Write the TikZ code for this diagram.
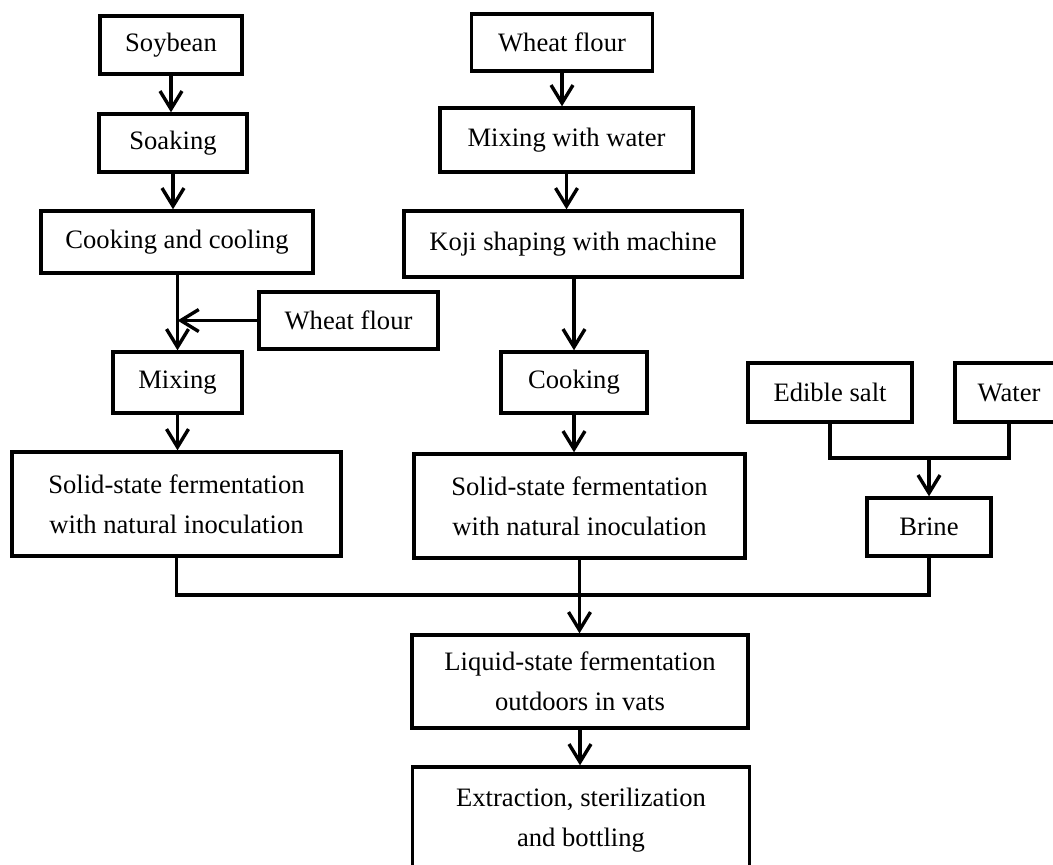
\documentclass[tikz,border=0pt]{standalone}
\usepackage{fontspec}
\setmainfont{Liberation Serif}
\usetikzlibrary{arrows.meta}
\begin{document}
\begin{tikzpicture}[x=0.5pt,y=-0.5pt,
  box/.style={draw, line width=1.7pt, rectangle, inner sep=0pt, align=center,
    font=\fontsize{13.3}{20}\selectfont},
  wh/.style 2 args={minimum width=#1*0.5pt, minimum height=#2*0.5pt},
  arr/.style={line width=1.7pt, -{Straight Barb[length=9pt,width=11pt]}},
  ln/.style={line width=1.7pt, line join=miter}]
\useasboundingbox (0,0) rectangle (1053,864);
\clip (0,0) rectangle (1053,864);
% left column
\node[box, wh={142}{58}] (soy) at (171,45) {Soybean};
\node[box, wh={148}{58}] (soak) at (173,143) {Soaking};
\node[box, wh={272}{62}] (cook) at (177,242) {Cooking and cooling};
\node[box, wh={179}{57}] (wf2) at (348.5,320.5) {Wheat flour};
\node[box, wh={129}{61}] (mix) at (177.5,382.5) {Mixing};
\node[box, wh={329}{104}] (ssl) at (176.5,504) {Solid-state fermentation\\with natural inoculation};
% middle column
\node[box, wh={181}{57}] (wf1) at (562,42.5) {Wheat flour};
\node[box, wh={253}{64}] (mww) at (566.5,140) {Mixing with water};
\node[box, wh={338}{66}] (koji) at (573,244) {Koji shaping with machine};
\node[box, wh={146}{61}] (cooking) at (574,382.5) {Cooking};
\node[box, wh={331}{104}] (ssm) at (579.5,506) {Solid-state fermentation\\with natural inoculation};
% right column
\node[box, wh={164}{59}] (salt) at (830,392.5) {Edible salt};
\node[box, wh={108}{59}] (water) at (1009,392.5) {Water};
\node[box, wh={124}{58}] (brine) at (929,527) {Brine};
% bottom
\node[box, wh={336}{93}] (liq) at (580,681.5) {Liquid-state fermentation\\outdoors in vats};
\node[box, wh={337}{106}] (ext) at (581,820) {Extraction, sterilization\\and bottling};
% connectors
\draw[arr] (soy.south) -- (soy.south |- soak.north);
\draw[arr] (soak.south) -- (soak.south |- cook.north);
\draw[arr] (cook.south -| mix) -- (mix.north);
\draw[arr] (wf2.west) -- (wf2.west -| mix);
\draw[arr] (mix.south) -- (mix.south |- ssl.north);
\draw[arr] (wf1.south) -- (wf1.south |- mww.north);
\draw[arr] (mww.south) -- (mww.south |- koji.north);
\draw[arr] (koji.south -| cooking) -- (cooking.north);
\draw[arr] (cooking.south) -- (cooking.south |- ssm.north);
\coordinate (j) at (929,458);
\draw[ln] (salt.south) |- (j) -| (water.south);
\draw[arr] (j) -- (brine.north);
\coordinate (k) at (579.5,595);
\draw[ln] (ssl.south) |- (k) -| (brine.south);
\draw[arr] (ssm.south) -- (ssm.south |- liq.north);
\draw[arr] (liq.south) -- (liq.south |- ext.north);
\end{tikzpicture}
\end{document}
